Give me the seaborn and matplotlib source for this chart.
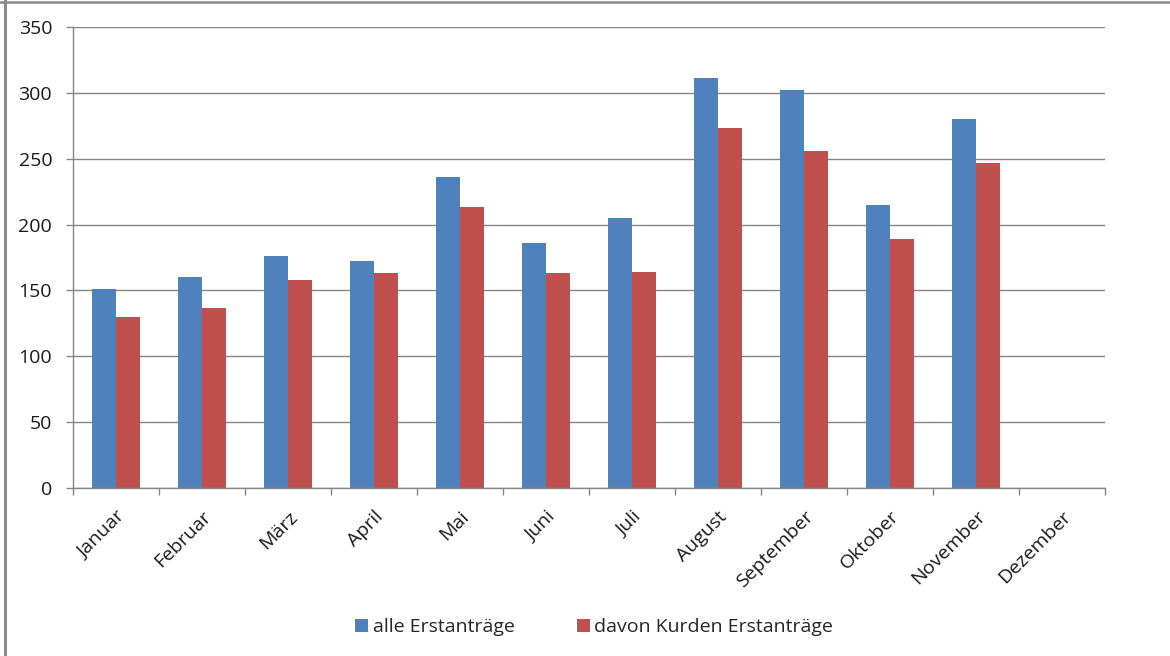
import matplotlib
matplotlib.use("Agg")
import matplotlib.pyplot as plt
from matplotlib.lines import Line2D
import numpy as np
import pandas as pd
import seaborn as sns

# ---- data ----
months = ["Januar", "Februar", "März", "April", "Mai", "Juni", "Juli",
          "August", "September", "Oktober", "November", "Dezember"]
series_names = ["alle Erstanträge", "davon Kurden Erstanträge"]
alle = [151, 160, 176, 172, 236, 186, 205, 311, 302, 215, 280, 0]
kurden = [130, 137, 158, 163, 213, 163, 164, 273, 256, 189, 247, 0]
y_ticks = [0, 50, 100, 150, 200, 250, 300, 350]

df = pd.DataFrame({
    "Monat": months * 2,
    "Serie": [series_names[0]] * len(months) + [series_names[1]] * len(months),
    "Wert": alle + kurden,
})

sns.set_theme(style="white")
plt.rcParams["font.family"] = ["Open Sans", "DejaVu Sans"]

FS = 14
W, H = 1170, 656
fig = plt.figure(figsize=(W / 100, H / 100), dpi=100)
ax = fig.add_axes([73 / W, 1 - 488 / H, (1105 - 73) / W, (488 - 27) / H])

palette = {series_names[0]: "#4F81BD", series_names[1]: "#C0504D"}
sns.barplot(data=df, x="Monat", y="Wert", hue="Serie", order=months,
            hue_order=series_names, palette=palette, saturation=1,
            width=0.56, linewidth=0, errorbar=None, ax=ax)

grid_c = "#868686"
ax.set_xlim(-0.5, len(months) - 0.5)
ax.set_ylim(0, 350)
ax.set_yticks(y_ticks)
ax.set_yticklabels([str(t) for t in y_ticks], fontsize=FS, color="#1a1a1a")
ax.yaxis.grid(True, color=grid_c, linewidth=1.0)
ax.set_axisbelow(True)
ax.set_xlabel("")
ax.set_ylabel("")

ax.set_xticks(range(len(months)))
ax.set_xticklabels(months, rotation=45, ha="right", rotation_mode="anchor",
                   fontsize=FS, color="#1a1a1a")
ax.set_xticks(np.arange(-0.5, len(months), 1.0), minor=True)
ax.tick_params(axis="x", which="major", length=0, pad=14)
ax.tick_params(axis="x", which="minor", length=5, width=1.0, color=grid_c,
               direction="out", bottom=True)
ax.tick_params(axis="y", which="major", length=5, width=1.0, color=grid_c,
               direction="out", left=True, pad=10)

for s in ["top", "right"]:
    ax.spines[s].set_visible(False)
for s in ["left", "bottom"]:
    ax.spines[s].set_color(grid_c)
    ax.spines[s].set_linewidth(1.0)

handles, labels = ax.get_legend_handles_labels()
if ax.get_legend() is not None:
    ax.get_legend().remove()
fig.legend(handles, labels, loc="center", bbox_to_anchor=(594 / W, 1 - 627 / H),
           ncol=2, frameon=False, fontsize=FS, handlelength=0.68,
           handleheight=0.68, handletextpad=0.22, columnspacing=3.2)

# chart frame (left and top edges visible in the reference)
fig.add_artist(Line2D([5 / W, 5 / W], [0, 1], transform=fig.transFigure,
                      color="#8a8a8a", linewidth=2.2))
fig.add_artist(Line2D([0, 1], [1 - 2 / H, 1 - 2 / H], transform=fig.transFigure,
                      color="#8a8a8a", linewidth=1.8))

fig.savefig("out.png", dpi=100, facecolor="white")
